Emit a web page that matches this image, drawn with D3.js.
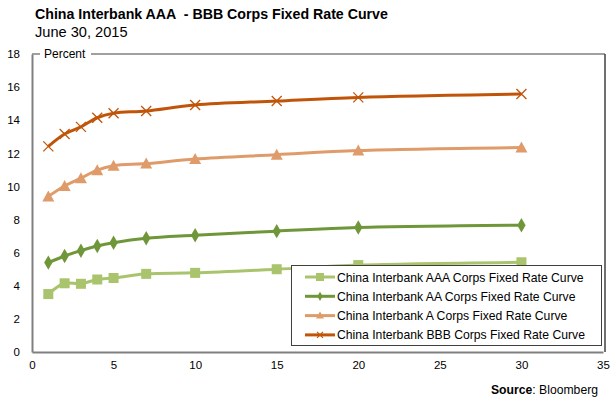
<!DOCTYPE html>
<html>
<head>
<meta charset="utf-8">
<script src="https://cdn.jsdelivr.net/npm/d3@7"></script>
<style>
  body { margin: 0; background: #fff; }
  svg { font-family: "Liberation Sans", Arial, sans-serif; }
</style>
</head>
<body>
<svg id="chart" width="613" height="404"></svg>
<script>
// tenors (years)
var tenors = [1, 2, 3, 4, 5, 7, 10, 15, 20, 30];

// yields, percent
var aaaValues = [3.5, 4.15, 4.12, 4.38, 4.47, 4.72, 4.78, 5.0, 5.25, 5.42];
var aaValues  = [5.4, 5.8, 6.12, 6.4, 6.6, 6.87, 7.05, 7.3, 7.52, 7.66];
var aValues   = [9.4, 10.03, 10.5, 10.98, 11.25, 11.38, 11.66, 11.92, 12.17, 12.35];
var bbbValues = [12.42, 13.17, 13.6, 14.15, 14.42, 14.56, 14.92, 15.16, 15.38, 15.58];

var seriesNames = [
  "China Interbank AAA Corps Fixed Rate Curve",
  "China Interbank AA Corps Fixed Rate Curve",
  "China Interbank A Corps Fixed Rate Curve",
  "China Interbank BBB Corps Fixed Rate Curve"
];
var seriesColors = ["#a9c46c", "#6f973a", "#e09b6b", "#c0550a"];
var seriesMarkers = ["square", "diamond", "triangle", "cross"];

var xTicks = [0, 5, 10, 15, 20, 25, 30, 35];
var yTicks = [0, 2, 4, 6, 8, 10, 12, 14, 16, 18];

var svg = d3.select("#chart");

// plot box (note: "top" is taken by window.top, so use other names)
var plotL = 32, plotR = 605, plotT = 54, plotB = 352;

var x = d3.scaleLinear().domain([0, 35]).range([plotL, plotR - 2]);
var y = d3.scaleLinear().domain([0, 18]).range([plotB, plotT]);

// title
svg.append("text").attr("x", 35).attr("y", 19)
  .style("font-size", "14.2px").style("font-weight", "bold").style("fill", "#000")
  .style("white-space", "pre")
  .text("China Interbank AAA  - BBB Corps Fixed Rate Curve");
svg.append("text").attr("x", 35).attr("y", 37)
  .style("font-size", "14.6px").style("fill", "#000")
  .text("June 30, 2015");

// plot frame
svg.append("line").attr("x1", plotL).attr("x2", 40).attr("y1", plotT).attr("y2", plotT)
  .attr("stroke", "#808080").attr("stroke-width", 1.5);
svg.append("line").attr("x1", 91).attr("x2", plotR).attr("y1", plotT).attr("y2", plotT)
  .attr("stroke", "#808080").attr("stroke-width", 1.5);
svg.append("line").attr("x1", plotR).attr("x2", plotR).attr("y1", plotT).attr("y2", plotB)
  .attr("stroke", "#404040").attr("stroke-width", 1.5);
svg.append("text").attr("x", 44).attr("y", 58)
  .style("font-size", "12px").style("fill", "#000").text("Percent");

// axes
var yAxis = svg.append("g").attr("transform", "translate(" + plotL + ",0)")
  .call(d3.axisLeft(y).tickValues(yTicks).tickSize(0).tickPadding(12));
var xAxis = svg.append("g").attr("transform", "translate(0," + plotB + ")")
  .call(d3.axisBottom(x).tickValues(xTicks).tickSize(0).tickPadding(9));
[xAxis, yAxis].forEach(function(a) {
  a.select(".domain").attr("stroke", "#808080").attr("stroke-width", 2);
  a.selectAll("text").style("font-size", "11.5px").style("fill", "#000")
    .style("font-family", "Liberation Sans, Arial, sans-serif");
});

var allValues = [aaaValues, aaValues, aValues, bbbValues];

var line = d3.line()
  .x(function(d) { return x(d[0]); })
  .y(function(d) { return y(d[1]); })
  .curve(d3.curveCatmullRom.alpha(0.5));

function drawMarker(g, type, color, cx, cy, s) {
  if (type == "square") {
    g.append("rect").attr("x", cx - 5).attr("y", cy - 5).attr("width", 10).attr("height", 10)
      .attr("fill", color);
  } else if (type == "diamond") {
    g.append("path").attr("d", d3.symbol().type(d3.symbolDiamond).size(s || 60)())
      .attr("transform", "translate(" + cx + "," + cy + ")").attr("fill", color);
  } else if (type == "triangle") {
    g.append("path").attr("d", "M0,-6L6,5L-6,5Z")
      .attr("transform", "translate(" + cx + "," + cy + ")").attr("fill", color);
  } else {
    g.append("path").attr("d", "M-5,-5L5,5M-5,5L5,-5")
      .attr("transform", "translate(" + cx + "," + cy + ")")
      .attr("stroke", color).attr("stroke-width", 1.3).attr("fill", "none");
  }
}

allValues.forEach(function(vals, i) {
  var pts = tenors.map(function(t, j) { return [t, vals[j]]; });
  var g = svg.append("g");
  g.append("path").datum(pts).attr("d", line)
    .attr("fill", "none").attr("stroke", seriesColors[i]).attr("stroke-width", 3);
  pts.forEach(function(p) {
    drawMarker(g, seriesMarkers[i], seriesColors[i], x(p[0]), y(p[1]));
  });
});

// legend
var legend = svg.append("g");
legend.append("rect").attr("x", 291.5).attr("y", 265.5).attr("width", 310).attr("height", 80)
  .attr("fill", "#fff").attr("stroke", "#404040").attr("stroke-width", 1);
seriesNames.forEach(function(name, i) {
  var ly = 277 + i * 19.3;
  legend.append("line").attr("x1", 305).attr("x2", 335).attr("y1", ly).attr("y2", ly)
    .attr("stroke", seriesColors[i]).attr("stroke-width", 3);
  var mg = legend.append("g");
  if (seriesMarkers[i] == "square") {
    mg.append("rect").attr("x", 316).attr("y", ly - 4).attr("width", 8).attr("height", 8).attr("fill", seriesColors[i]);
  } else if (seriesMarkers[i] == "diamond") {
    drawMarker(mg, "diamond", seriesColors[i], 320, ly, 25);
  } else if (seriesMarkers[i] == "triangle") {
    mg.append("path").attr("d", "M0,-4L4,3L-4,3Z").attr("transform", "translate(320," + ly + ")")
      .attr("fill", seriesColors[i]);
  } else {
    mg.append("path").attr("d", "M-3,-3L3,3M-3,3L3,-3").attr("transform", "translate(320," + ly + ")")
      .attr("stroke", seriesColors[i]).attr("stroke-width", 1.2);
  }
  legend.append("text").attr("x", 337).attr("y", ly + 4.5)
    .style("font-size", "12.2px").style("fill", "#000").text(name);
});

// source note
var src = svg.append("text").attr("x", 598).attr("y", 394).attr("text-anchor", "end")
  .style("font-size", "12.2px").style("fill", "#000");
src.append("tspan").style("font-weight", "bold").text("Source");
src.append("tspan").text(": Bloomberg");
</script>
</body>
</html>
